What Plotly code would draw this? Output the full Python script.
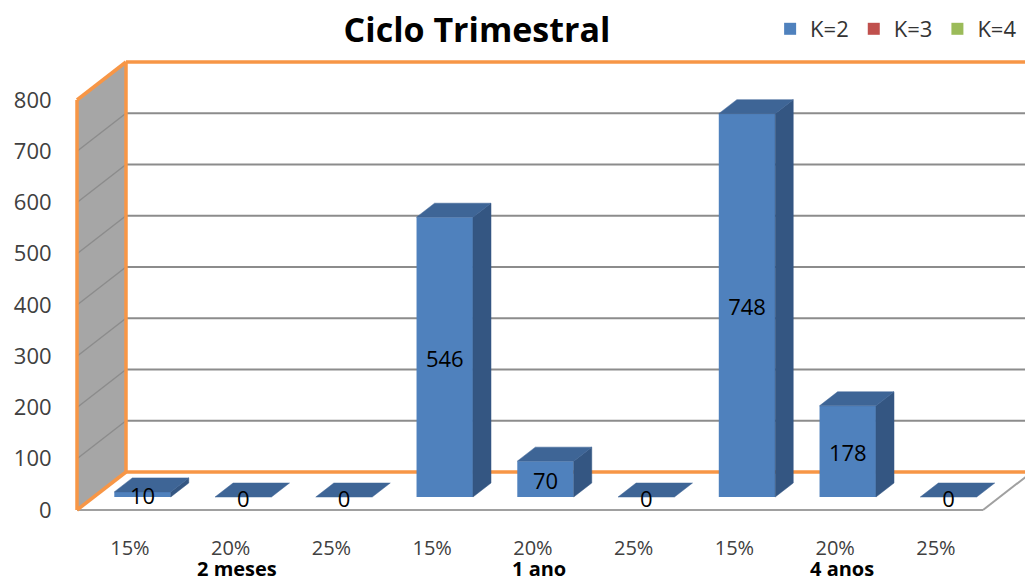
import plotly.graph_objects as go

# ---------------- data ----------------
categories = ["15%", "20%", "25%", "15%", "20%", "25%", "15%", "20%", "25%"]
groups = ["2 meses", "1 ano", "4 anos"]
k2_values = [10, 0, 0, 546, 70, 0, 748, 178, 0]
k3_values = [None] * 9
k4_values = [None] * 9
y_tick_values = [0, 100, 200, 300, 400, 500, 600, 700, 800]
series_names = ["K=2", "K=3", "K=4"]
title_text = "Ciclo Trimestral"

# ---------------- styling / geometry ----------------
FRONT = "#4F81BD"
TOP = "#3E6596"
SIDE = "#345682"
ORANGE = "#F79646"
GRID = "#8C8C8C"
WALL = "#A6A6A6"
FONT = "Open Sans"

W_FIG, H_FIG = 1025, 583
L, R, T, B = 66, 0, 45, 63
PXX = 100.75          # px per category
PXY = 0.5125          # px per value unit
X0_PX = 142.5         # pixel of first bar centre
Y0_PX = 497           # pixel of bar-plane zero

xmin = -(X0_PX - L) / PXX
xmax = xmin + (W_FIG - L - R) / PXX
ymax = (Y0_PX - T) / PXY
ymin = ymax - (H_FIG - T - B) / PXY

DXT = 49 / PXX        # full depth offset (x)
DYT = 38 / PXY        # full depth offset (y)
D0 = 13 / 38          # depth of the bar front plane
BAR_D = 14 / 38       # bar depth
W = 0.56              # bar width
XL = (77 - X0_PX) / PXX    # left wall front x (front plane, axis units)
XR = (983 - X0_PX) / PXX   # floor right front x (front plane, axis units)
VMAX = y_tick_values[-1]
LABEL_DROP = 4 / PXY       # data labels sit slightly below bar centre


def P(xf, v, d):
    """front-plane axis x, value, depth (0 front .. 1 back) -> axis coordinates"""
    return xf + d * DXT, v + (d - D0) * DYT


def path(pts):
    return "M " + " L ".join(f"{x:.4f},{y:.4f}" for x, y in pts) + " Z"


def seg(p, q, color, width):
    return dict(type="line", xref="x", yref="y", x0=p[0], y0=p[1], x1=q[0], y1=q[1],
                line=dict(color=color, width=width), layer="below")


shapes = []
# left wall
shapes.append(dict(type="path", xref="x", yref="y", layer="below",
                   path=path([P(XL, 0, 0), P(XL, VMAX, 0), P(XL, VMAX, 1), P(XL, 0, 1)]),
                   fillcolor=WALL, line=dict(width=0)))
for v in y_tick_values[1:-1]:
    shapes.append(seg(P(XL, v, 0), P(XL, v, 1), GRID, 1.5))
    shapes.append(seg(P(XL, v, 1), (xmax + 1, P(XL, v, 1)[1]), GRID, 2))
# floor edges (grey)
shapes.append(seg(P(XL, 0, 0), P(XR, 0, 0), "#A0A0A0", 2))
shapes.append(seg(P(XR, 0, 0), P(XR, 0, 1), "#A0A0A0", 2))
# orange frame
shapes.append(seg(P(XL, 0, 1), (xmax + 1, P(XL, 0, 1)[1]), ORANGE, 3.5))
shapes.append(seg(P(XL, VMAX, 1), (xmax + 1, P(XL, VMAX, 1)[1]), ORANGE, 3.5))
shapes.append(seg(P(XL, 0, 1), P(XL, VMAX, 1), ORANGE, 3.5))
shapes.append(seg(P(XL, 0, 0), P(XL, VMAX, 0), ORANGE, 3.5))
shapes.append(seg(P(XL, VMAX, 0), P(XL, VMAX, 1), ORANGE, 3.5))
shapes.append(seg(P(XL, 0, 0), P(XL, 0, 1), ORANGE, 3.5))

fig = go.Figure()
idx = list(range(len(categories)))

fig.add_trace(go.Bar(x=idx, y=k2_values, width=W, name=series_names[0],
                     marker=dict(color=FRONT, line=dict(width=0))))
fig.add_trace(go.Bar(x=idx, y=k3_values, width=W, name=series_names[1],
                     marker=dict(color="#C0504D", line=dict(width=0))))
fig.add_trace(go.Bar(x=idx, y=k4_values, width=W, name=series_names[2],
                     marker=dict(color="#9BBB59", line=dict(width=0))))

bdx, bdy = BAR_D * DXT, BAR_D * DYT
top_x, top_y, side_x, side_y = [], [], [], []
for i, v in zip(idx, k2_values):
    xl, xr = i - W / 2, i + W / 2
    for px, py in [(xl, v), (xr, v), (xr + bdx, v + bdy), (xl + bdx, v + bdy), (xl, v)]:
        top_x.append(px); top_y.append(py)
    top_x.append(None); top_y.append(None)
    if v > 0:
        for px, py in [(xr, 0), (xr, v), (xr + bdx, v + bdy), (xr + bdx, bdy), (xr, 0)]:
            side_x.append(px); side_y.append(py)
        side_x.append(None); side_y.append(None)

fig.add_trace(go.Scatter(x=side_x, y=side_y, mode="lines", fill="toself", fillcolor=SIDE,
                         line=dict(color=SIDE, width=0.5), showlegend=False, hoverinfo="skip"))
fig.add_trace(go.Scatter(x=top_x, y=top_y, mode="lines", fill="toself", fillcolor=TOP,
                         line=dict(color=TOP, width=0.5), showlegend=False, hoverinfo="skip"))
fig.add_trace(go.Scatter(x=idx, y=[v / 2 - LABEL_DROP for v in k2_values], mode="text",
                         text=[str(v) for v in k2_values],
                         textfont=dict(family=FONT, size=22, color="#000000"),
                         showlegend=False, hoverinfo="skip", cliponaxis=False))

annotations = []
for g, name in enumerate(groups):
    annotations.append(dict(x=g * 3 + 1 - 0.06, y=-(568 - (H_FIG - B)) / (H_FIG - T - B),
                            xref="x", yref="paper", text=f"<b>{name}</b>", showarrow=False,
                            font=dict(family=FONT, size=20, color="#000000"),
                            xanchor="center", yanchor="middle", borderpad=0))

fig.update_layout(
    width=W_FIG, height=H_FIG,
    margin=dict(l=L, r=R, t=T, b=B),
    paper_bgcolor="white", plot_bgcolor="white",
    barmode="overlay",
    shapes=shapes,
    annotations=annotations,
    title=dict(text=f"<b>{title_text}</b>", x=477 / W_FIG, xanchor="center",
               y=1 - 30 / H_FIG, yanchor="middle",
               font=dict(family=FONT, size=34, color="#000000")),
    legend=dict(orientation="h", x=0.997, xanchor="right",
                y=((H_FIG - B) - 29) / (H_FIG - T - B), yanchor="middle",
                font=dict(family=FONT, size=22, color="#333333"),
                bgcolor="rgba(0,0,0,0)", itemwidth=30, traceorder="normal"),
    xaxis=dict(range=[xmin, xmax], tickmode="array", tickvals=[i - 0.125 for i in idx],
               ticktext=categories, showgrid=False, zeroline=False, showline=False,
               ticks="outside", ticklen=10, tickcolor="rgba(0,0,0,0)",
               tickfont=dict(family=FONT, size=20, color="#404040"), fixedrange=True),
    yaxis=dict(range=[ymin, ymax], tickmode="array",
               tickvals=[v - D0 * DYT for v in y_tick_values],
               ticktext=[str(v) for v in y_tick_values], showgrid=False, zeroline=False,
               showline=False, ticks="outside", ticklen=9, tickcolor="rgba(0,0,0,0)",
               tickfont=dict(family=FONT, size=22, color="#404040"), fixedrange=True),
)

fig.write_html("out.html")
